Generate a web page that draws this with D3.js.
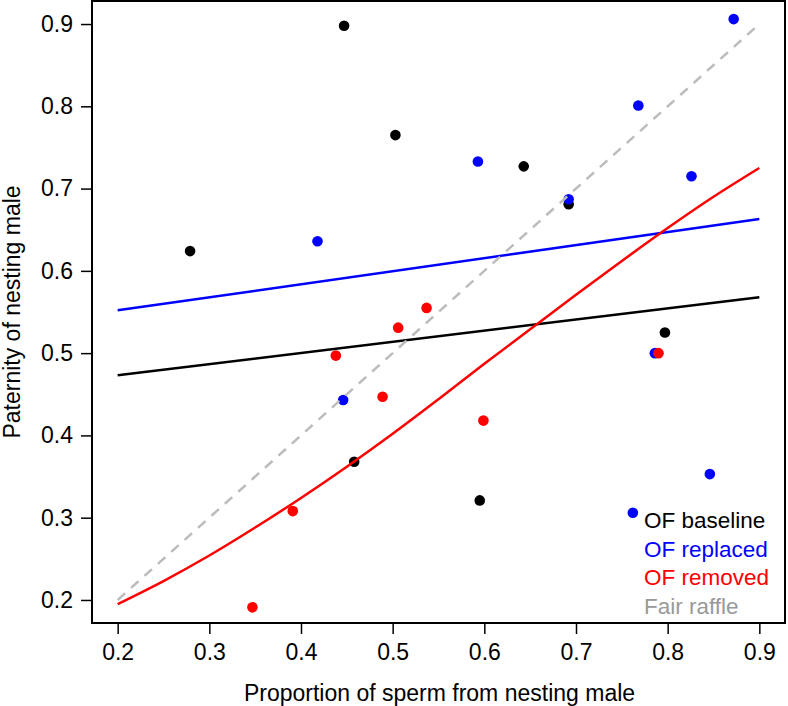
<!DOCTYPE html>
<html><head><meta charset="utf-8">
<script src="https://cdn.jsdelivr.net/npm/d3@7"></script>
<style>body{margin:0;background:#fff;} svg{display:block;font-family:"Liberation Sans",Arial,Helvetica,sans-serif;}</style>
</head><body>
<svg id="c" width="788" height="706"></svg>
<script>
// Data
const baselineX = [0.279, 0.447, 0.503, 0.643, 0.692, 0.797, 0.458, 0.595];
const baselineY = [0.624, 0.898, 0.765, 0.727, 0.681, 0.525, 0.368, 0.321];
const replacedX = [0.418, 0.593, 0.768, 0.872, 0.826, 0.692, 0.446, 0.846, 0.762, 0.786];
const replacedY = [0.636, 0.733, 0.801, 0.906, 0.715, 0.687, 0.443, 0.353, 0.306, 0.500];
const removedX = [0.506, 0.537, 0.438, 0.489, 0.391, 0.347, 0.599, 0.790];
const removedY = [0.531, 0.555, 0.497, 0.447, 0.308, 0.191, 0.418, 0.500];
// fitted lines (end points)
const baselineFitX = [0.2, 0.9];
const baselineFitY = [0.473, 0.568];
const replacedFitX = [0.2, 0.9];
const replacedFitY = [0.552, 0.663];
// fitted curve for removed, sampled from chart
const removedFitX = [0.2, 0.25, 0.3, 0.35, 0.4, 0.45, 0.5, 0.55, 0.6, 0.65, 0.7, 0.75, 0.8, 0.85, 0.9];
const removedFitY = [0.195, 0.223, 0.254, 0.288, 0.324, 0.362, 0.402, 0.444, 0.487, 0.529, 0.571, 0.612, 0.652, 0.690, 0.725];
const fairX = [0.2, 0.9];
const fairY = [0.2, 0.9];
const xTicks = [0.2, 0.3, 0.4, 0.5, 0.6, 0.7, 0.8, 0.9];
const yTicks = [0.2, 0.3, 0.4, 0.5, 0.6, 0.7, 0.8, 0.9];
const legendLabels = ["OF baseline", "OF replaced", "OF removed", "Fair raffle"];
const xTitle = "Proportion of sperm from nesting male";
const yTitle = "Paternity of nesting male";

const colBlack = "#000000", colBlue = "#0000ff", colRed = "#ff0000", colGray = "#bcbcbc", colGrayText = "#999999";
const legendColors = [colBlack, colBlue, colRed, colGrayText];

const svg = d3.select("#c");
const L = 92, R = 785, T = 1, B = 623;
const x = d3.scaleLinear().domain([0.172, 0.928]).range([L, R]);
const y = d3.scaleLinear().domain([0.172, 0.928]).range([B, T]);

// axes
const xa = svg.append("g").attr("transform", `translate(0,${B})`)
  .call(d3.axisBottom(x).tickValues(xTicks).tickSize(11).tickPadding(10).tickFormat(d3.format(".1f")));
const ya = svg.append("g").attr("transform", `translate(${L},0)`)
  .call(d3.axisLeft(y).tickValues(yTicks).tickSize(11).tickPadding(8).tickFormat(d3.format(".1f")));
[xa, ya].forEach(g => {
  g.select(".domain").remove();
  g.selectAll(".tick line").attr("stroke", "#000").attr("stroke-width", 1.5);
  g.selectAll(".tick text").attr("fill", "#000").attr("font-size", 23)
    .attr("font-family", '"Liberation Sans",Arial,sans-serif');
});

// points
function pts(xs, ys, col) {
  svg.append("g").selectAll("circle").data(xs.map((v, i) => [v, ys[i]])).join("circle")
    .attr("cx", d => x(d[0])).attr("cy", d => y(d[1])).attr("r", 5.3).attr("fill", col);
}
pts(baselineX, baselineY, colBlack);
pts(replacedX, replacedY, colBlue);
pts(removedX, removedY, colRed);

// lines
function ln(xs, ys, col, dash, curve) {
  const g = d3.line().x(d => x(d[0])).y(d => y(d[1]));
  if (curve) g.curve(curve);
  svg.append("path").attr("d", g(xs.map((v, i) => [v, ys[i]])))
    .attr("fill", "none").attr("stroke", col).attr("stroke-width", 2.5)
    .attr("stroke-dasharray", dash || null);
}
ln(baselineFitX, baselineFitY, colBlack);
ln(replacedFitX, replacedFitY, colBlue);
ln(removedFitX, removedFitY, colRed, null, d3.curveMonotoneX);
ln(fairX, fairY, colGray, "10,8");

// box
svg.append("rect").attr("x", L).attr("y", T).attr("width", R - L).attr("height", B - T)
  .attr("fill", "none").attr("stroke", "#000").attr("stroke-width", 2);

// legend
svg.append("g").selectAll("text").data(legendLabels).join("text")
  .attr("x", 644).attr("y", (d, i) => 528 + i * 28.7)
  .attr("font-size", 22.5).attr("fill", (d, i) => legendColors[i]).text(d => d);

// titles
svg.append("text").attr("x", (L + R) / 2 + 1).attr("y", 701).attr("text-anchor", "middle")
  .attr("font-size", 23).text(xTitle);
svg.append("text").attr("transform", `translate(20,${(T + B) / 2}) rotate(-90)`).attr("text-anchor", "middle")
  .attr("font-size", 23).text(yTitle);
</script>
</body></html>
